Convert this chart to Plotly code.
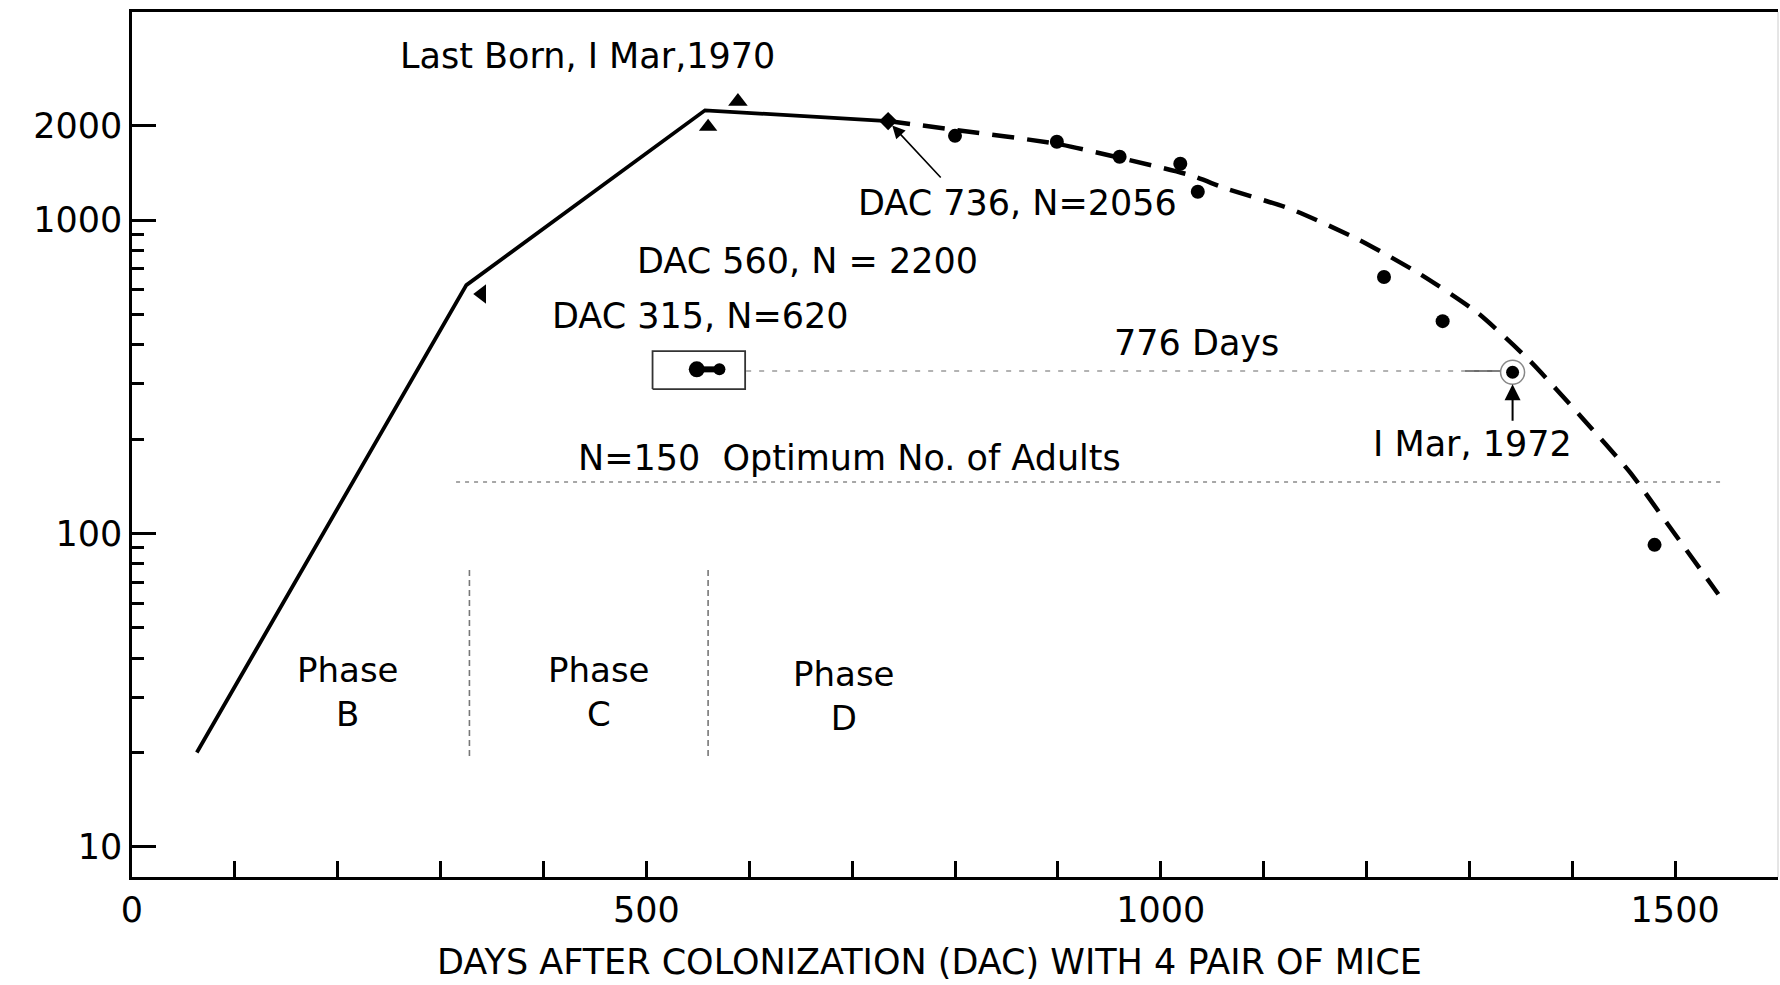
import numpy as np
import plotly.graph_objects as go

# ---------------- data ----------------
solid_days = [63, 325, 557, 735]
solid_n = [20, 620, 2240, 2070]

dash_days = [735, 800, 899, 960, 1028, 1064, 1126, 1191, 1252, 1307, 1359, 1409, 1456, 1492, 1542]
dash_n = [2070, 1941, 1752, 1581, 1393, 1259, 1086, 871, 673, 509, 355, 235, 157, 108, 64]

obs_days = [800, 899, 960, 1019, 1036, 1217, 1274, 1480]
obs_n = [1857, 1778, 1592, 1513, 1231, 658, 476, 92]

flag_days = [340, 560, 589, 735]
flag_n = [581, 1986, 2388, 2070]
flag_symbols = ["triangle-left", "triangle-up", "triangle-up", "diamond"]

circled_day = [1342]
circled_n = [327]

box_days = [506, 596]
box_n = [289, 382]
dumbbell_days = [549, 571]
dumbbell_n = [334, 334]

days776_line = [597, 1333]
n776_line = [330, 330]
days776_end = [1296, 1333]

optimum_days = [315, 1545]
optimum_n = [146, 146]

phase_days = [328, 560]
phase_n = [19.5, 77]

x_tickvals = list(range(0, 1600, 100))
x_ticktext = ["0" if v == 0 else (str(v) if v % 500 == 0 else "") for v in x_tickvals]
y_tickvals = [10, 100, 1000, 2000]
y_ticktext = ["10", "100", "1000", "2000"]
y_minor = [20, 30, 40, 50, 60, 70, 80, 90, 200, 300, 400, 500, 600, 700, 800, 900]

FONT = "DejaVu Sans"
fig = go.Figure()

# N = 150 optimum line
fig.add_trace(go.Scatter(x=optimum_days, y=optimum_n, mode="lines",
                         line=dict(color="#8a8a8a", width=1.6, dash="4px,5px"), hoverinfo="skip"))
# 776 days line
fig.add_trace(go.Scatter(x=days776_line, y=n776_line, mode="lines",
                         line=dict(color="#9a9a9a", width=1.4, dash="5px,8px"), hoverinfo="skip"))
fig.add_trace(go.Scatter(x=days776_end, y=n776_line, mode="lines",
                         line=dict(color="#555555", width=1.4), hoverinfo="skip"))
# phase dividers
for d in phase_days:
    fig.add_trace(go.Scatter(x=[d, d], y=phase_n, mode="lines",
                             line=dict(color="#777777", width=1.6, dash="6px,4px"), hoverinfo="skip"))
# box
fig.add_trace(go.Scatter(x=[box_days[0], box_days[1], box_days[1], box_days[0], box_days[0]],
                         y=[box_n[0], box_n[0], box_n[1], box_n[1], box_n[0]], mode="lines",
                         line=dict(color="#333333", width=1.8), hoverinfo="skip"))
fig.add_trace(go.Scatter(x=dumbbell_days, y=dumbbell_n, mode="lines",
                         line=dict(color="black", width=6), hoverinfo="skip"))
fig.add_trace(go.Scatter(x=dumbbell_days, y=dumbbell_n, mode="markers",
                         marker=dict(color="black", size=[16, 12], opacity=1, line=dict(width=0)),
                         hoverinfo="skip"))
# solid growth line
fig.add_trace(go.Scatter(x=solid_days, y=solid_n, mode="lines",
                         line=dict(color="black", width=3.8), hoverinfo="skip"))
# dashed decline curve
fig.add_trace(go.Scatter(x=dash_days, y=dash_n, mode="lines", line_shape="spline",
                         line=dict(color="black", width=4.5, dash="22px,13px", smoothing=0.6),
                         hoverinfo="skip"))
# observation dots
fig.add_trace(go.Scatter(x=obs_days, y=obs_n, mode="markers",
                         marker=dict(color="black", size=14, opacity=1, line=dict(width=0)),
                         hoverinfo="skip"))
fig.add_trace(go.Scatter(x=flag_days, y=flag_n, mode="markers",
                         marker=dict(color="black", size=[17, 16, 17, 14], symbol=flag_symbols,
                                     opacity=1, line=dict(width=0)),
                         hoverinfo="skip"))
# circled point
fig.add_trace(go.Scatter(x=circled_day, y=circled_n, mode="markers",
                         marker=dict(color="white", size=24, line=dict(color="#888888", width=1.5)),
                         hoverinfo="skip"))
fig.add_trace(go.Scatter(x=circled_day, y=circled_n, mode="markers",
                         marker=dict(color="black", size=13, opacity=1, line=dict(width=0)),
                         hoverinfo="skip"))

lg = np.log10
txt = dict(family=FONT, size=35, color="black")
ptxt = dict(family=FONT, size=34, color="black")
annotations = [
    dict(x=443, y=3.525, text="Last Born, I Mar,1970"),
    dict(x=861, y=3.055, text="DAC 736, N=2056"),
    dict(x=657, y=2.870, text="DAC 560, N = 2200"),
    dict(x=553, y=2.694, text="DAC 315, N=620"),
    dict(x=1035, y=2.6075, text="776 Days"),
    dict(x=1303, y=2.285, text="I Mar, 1972"),
    dict(x=697, y=2.241, text="N=150  Optimum No. of Adults"),
    dict(x=210, y=1.495, text="Phase<br>B", font=ptxt),
    dict(x=454, y=1.495, text="Phase<br>C", font=ptxt),
    dict(x=692, y=1.481, text="Phase<br>D", font=ptxt),
    dict(x=-95, y=2.282, text="N"),
]
anns = []
for a in annotations:
    d = dict(xref="x", yref="y", showarrow=False, xanchor="center", yanchor="middle", font=txt)
    d.update(a)
    anns.append(d)
# axis title
anns.append(dict(xref="paper", yref="paper", x=(929 - 132) / 1646, y=(877 - 962) / 864,
                 text="DAYS AFTER COLONIZATION (DAC) WITH 4 PAIR OF MICE", showarrow=False,
                 xanchor="center", yanchor="middle", font=txt))
# arrows
anns.append(dict(xref="x", yref="y", x=solid_days[-1], y=lg(solid_n[-1]), ax=54, ay=58,
                 text="", showarrow=True, arrowhead=2, arrowsize=1.6, arrowwidth=1.6,
                 arrowcolor="black", standoff=6))
anns.append(dict(xref="x", yref="y", x=circled_day[0], y=lg(circled_n[0]), ax=0, ay=50,
                 text="", showarrow=True, arrowhead=2, arrowsize=1.6, arrowwidth=2,
                 arrowcolor="black", standoff=12))

fig.update_layout(
    width=1780, height=985,
    margin=dict(l=132, r=2, t=12, b=108, autoexpand=False),
    paper_bgcolor="white", plot_bgcolor="white",
    showlegend=False,
    font=dict(family=FONT, size=35, color="black"),
    annotations=anns,
    shapes=[dict(type="line", xref="paper", yref="paper", x0=1, x1=1, y0=0, y1=1,
                 line=dict(color="#cccccc", width=1))],
)
fig.update_xaxes(range=[0, 1600], showgrid=False, zeroline=False, automargin=False,
                 showline=True, linecolor="black", linewidth=3, mirror=True,
                 ticks="inside", ticklen=16, tickwidth=2.5, tickcolor="black",
                 tickvals=x_tickvals, ticktext=x_ticktext,
                 tickfont=dict(family=FONT, size=35, color="black"))
fig.update_yaxes(type="log", range=[0.904, 3.664], showgrid=False, zeroline=False, automargin=False,
                 showline=True, linecolor="black", linewidth=2.5,
                 ticks="inside", ticklen=24, tickwidth=2.5, tickcolor="black",
                 tickvals=y_tickvals, ticktext=y_ticktext,
                 tickfont=dict(family=FONT, size=35, color="black"),
                 minor=dict(tickvals=y_minor, ticks="inside", ticklen=12, tickwidth=2.5,
                            tickcolor="black", showgrid=False))

fig.write_html("out.html", config={"displayModeBar": False},
               post_script="document.body.style.margin='0';document.body.style.padding='0';"
                           "document.body.style.overflow='hidden';")
